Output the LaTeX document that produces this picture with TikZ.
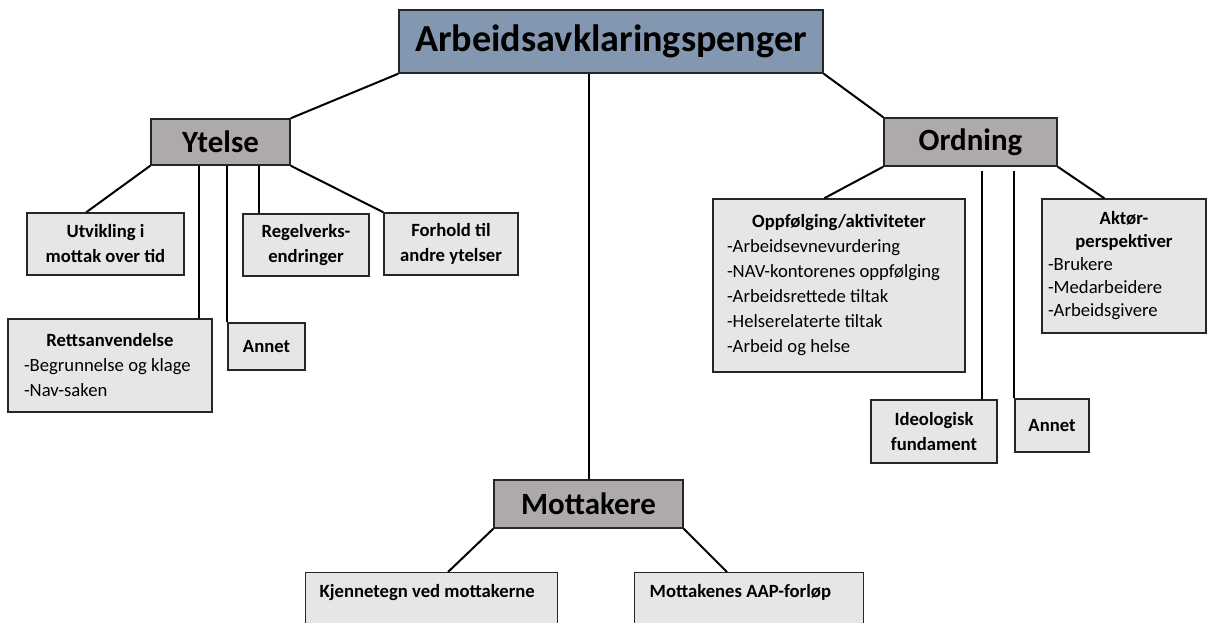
\documentclass[tikz,border=0pt]{standalone}
\usepackage{fontspec}
\setmainfont{Carlito}
\usetikzlibrary{calc}

\definecolor{topblue}{HTML}{8497B0}
\definecolor{midgray}{HTML}{AEAAAA}
\definecolor{boxgray}{HTML}{E7E6E6}
\definecolor{edge}{HTML}{262626}

\newcommand{\boxtitle}[1]{\makebox[\linewidth][c]{\bfseries #1}}

\tikzset{
  topbox/.style={draw=edge,line width=1.1pt,fill=topblue,inner sep=0pt,
    font=\fontsize{28.6}{34}\selectfont\bfseries},
  midbox/.style={draw=edge,line width=1.1pt,fill=midgray,inner sep=0pt,
    font=\fontsize{23.2}{28}\selectfont\bfseries},
  smallbox/.style={draw=edge,line width=1.1pt,fill=boxgray,inner sep=0pt,align=center,
    font=\fontsize{14}{18.75}\selectfont\bfseries},
  listbox/.style={draw=edge,line width=1.1pt,fill=boxgray,inner ysep=0pt,align=flush left,
    font=\fontsize{14}{18.75}\selectfont},
  link/.style={line width=1.5pt}
}

\begin{document}
\begin{tikzpicture}[x=0.75pt,y=-0.75pt]
\clip (0,0) rectangle (1208,623);
\fill[white] (0,0) rectangle (1208,623);

%Main box and the three branches
\node[topbox,minimum width=318pt,minimum height=47.25pt] (aap) at (611,41.5) {Arbeidsavklaringspenger};
\node[midbox,minimum width=104.25pt,minimum height=34.5pt] (ytelse) at (220.5,142) {Ytelse};
\node[midbox,minimum width=129.75pt,minimum height=36pt] (ordning) at (970.5,142) {Ordning};
\node[midbox,minimum width=141.75pt,minimum height=36pt] (mottakere) at (588.5,504) {Mottakere};

%Boxes under Ytelse
\node[smallbox,minimum width=117.75pt,minimum height=46.5pt] (utvikling) at (105.5,244) {Utvikling i\\mottak over tid};
\node[listbox,text width=129pt,inner xsep=12pt,minimum height=69.75pt] (rett) at (110,365.5)
  {\boxtitle{Rettsanvendelse}\\-Begrunnelse og klage\\-Nav-saken};
\node[smallbox,minimum width=57.75pt,minimum height=35.25pt] (annetY) at (266.5,346.5) {Annet};
\node[smallbox,minimum width=94.5pt,minimum height=46.5pt] (regel) at (306,245) {Regelverks-\\endringer};
\node[smallbox,minimum width=100.5pt,minimum height=46.5pt] (forhold) at (451,244) {Forhold til\\andre ytelser};

%Boxes under Ordning
\node[listbox,text width=168pt,inner xsep=10.5pt,minimum height=129.75pt] (oppf) at (839,285.5)
  {\boxtitle{Oppfølging/aktiviteter}\\-Arbeidsevnevurdering\\-NAV-kontorenes oppfølging\\-Arbeidsrettede tiltak\\-Helserelaterte tiltak\\-Arbeid og helse};
\node[smallbox,minimum width=94.5pt,minimum height=47.25pt] (ideo) at (934,431.5) {Ideologisk\\fundament};
\node[smallbox,minimum width=55.5pt,minimum height=39.75pt] (annetO) at (1052,425.5) {Annet};
\node[listbox,text width=114pt,inner xsep=4.5pt,minimum height=100.5pt,
  font=\fontsize{14}{17.25}\selectfont] (aktor) at (1124,266)
  {\boxtitle{Aktør-}\\\boxtitle{perspektiver}\\-Brukere\\-Medarbeidere\\-Arbeidsgivere};

%Boxes under Mottakere
\node[listbox,anchor=north west,text width=168pt,inner xsep=10.5pt,text height=18.75pt,text depth=30pt] (kjenn) at (305,572)
  {\textbf{Kjennetegn ved mottakerne}};
\node[listbox,anchor=north west,text width=149.25pt,inner xsep=11.25pt,text height=18.75pt,text depth=30pt] (mottak) at (634,572)
  {\textbf{Mottakenes AAP-forløp}};

%Points where the lines meet the boxes
\coordinate (utv-top) at ($(utvikling.north west)+(60,0)$);
\coordinate (rett-top) at ($(rett.north east)+(-14,0)$);
\coordinate (regel-top) at ($(regel.north west)+(17,0)$);
\coordinate (oppf-top) at ($(oppf.north west)+(112,0)$);
\coordinate (ideo-top) at ($(ideo.north east)+(-16,0)$);
\coordinate (aktor-top) at ($(aktor.north west)+(63,0)$);
\coordinate (kjenn-top) at ($(kjenn.north west)+(143,0)$);
\coordinate (mottak-top) at ($(mottak.north west)+(93,0)$);
\coordinate (ogap) at ($(ordning.south)+(0,4)$);

%Slanted lines
\foreach \a/\b in {aap.south west/ytelse.north east,aap.south east/ordning.north west,
  ytelse.south west/utv-top,ytelse.south east/forhold.north west,
  ordning.south west/oppf-top,ordning.south east/aktor-top,
  mottakere.south west/kjenn-top,mottakere.south east/mottak-top}
  \draw[link] (\a) -- (\b);

%Straight down lines
\draw[link] (mottakere.north) -- (mottakere.north |- aap.south);
\foreach \a/\b in {rett-top/ytelse.south,annetY.north west/ytelse.south,regel-top/ytelse.south,
  ideo-top/ogap,annetO.north west/ogap}
  \draw[link] (\a) -- (\a |- \b);

\end{tikzpicture}
\end{document}
